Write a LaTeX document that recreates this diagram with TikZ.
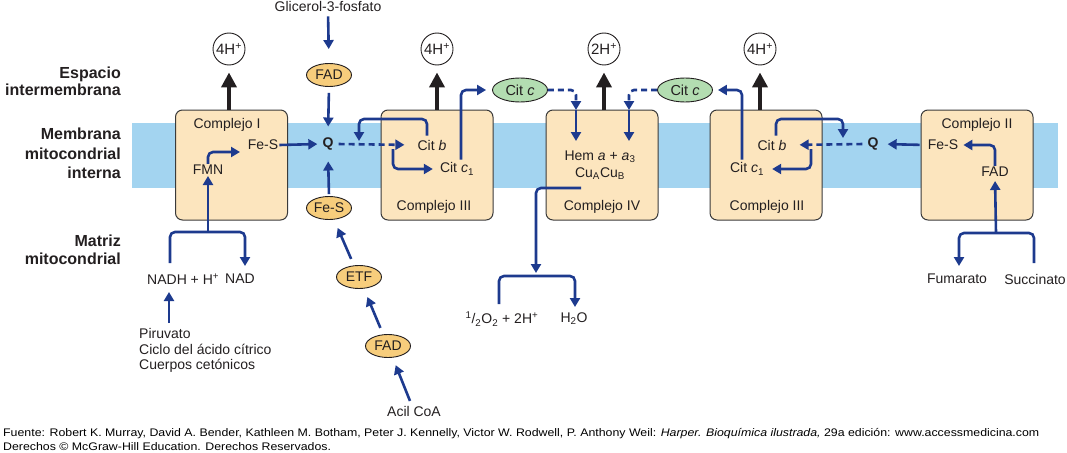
\documentclass[tikz,border=0pt]{standalone}
\usepackage{fontspec}
\usepackage{graphicx}
\setmainfont{Liberation Sans}
\usetikzlibrary{arrows.meta,shapes.geometric,calc}
\definecolor{flowblue}{HTML}{1D3A8E}
\definecolor{boxfill}{HTML}{FCE5BE}
\definecolor{boxline}{HTML}{3A3A3A}
\definecolor{orangefill}{HTML}{F7CD7C}
\definecolor{greenfill}{HTML}{B3DDB1}
\definecolor{membrane}{HTML}{A3D4F0}
\definecolor{ink}{HTML}{231F20}
\begin{document}
\begin{tikzpicture}[x=1pt,y=-1pt,
  txt/.style={font=\fontsize{14}{16}\selectfont, inner sep=1pt, text=ink},
  side/.style={font=\bfseries\fontsize{16}{18}\selectfont, inner sep=0pt, anchor=base east, text=ink},
  cbox/.style={draw=boxline, fill=boxfill, rounded corners=7pt, line width=1pt, minimum width=112pt, minimum height=110pt, inner sep=0pt},
  oval/.style={ellipse, draw=ink, line width=0.9pt, fill=orangefill, minimum width=45pt, minimum height=23pt, inner sep=0pt, font=\fontsize{14}{16}\selectfont, text=ink},
  cyt/.style={ellipse, draw=ink, line width=0.9pt, fill=greenfill, minimum width=55pt, minimum height=24pt, inner sep=0pt, font=\fontsize{14.5}{16}\selectfont, text=ink},
  hcirc/.style={circle, draw=ink, line width=0.9pt, fill=white, minimum size=32pt, inner sep=0pt, font=\fontsize{15}{17}\selectfont, text=ink},
  flowline/.style={draw=flowblue, line width=2.6pt, rounded corners=5pt},
  flow/.style={flowline, -{Triangle[length=9pt,width=10pt]}},
  flowdash/.style={flow, dash pattern=on 6pt off 4pt},
  pump/.style={draw=ink, line width=4.5pt, -{Triangle[length=15pt,width=15pt]}},
  foot/.style={font=\fontsize{11}{13}\selectfont, inner sep=0pt, anchor=base west, text=black}
]
\path[use as bounding box] (0,0) rectangle (1067,452);

% membrane
\fill[membrane] (132,123) rectangle (1058,188);

% side labels
\node[side] (sl1) at (121,78) {Espacio};
\node[side] (sl2) at (121,95) {intermembrana};
\node[side] (sl3) at (121,139) {Membrana};
\node[side] (sl4) at (121,159) {mitocondrial};
\node[side] (sl5) at (121,178) {interna};
\node[side] (sl6) at (121,246) {Matriz};
\node[side] (sl7) at (121,264) {mitocondrial};

% complex boxes
\node[cbox] (c1) at (231.5,165) {};
\node[cbox] (c3a) at (437,165) {};
\node[cbox] (c4) at (602,165) {};
\node[cbox] (c3b) at (766,165) {};
\node[cbox] (c2) at (977,165) {};

% Complex I contents
\node[txt] (c1t) at (227,125) {Complejo I};
\node[txt] (fes1) at (263,145) {Fe-S};
\node[txt] (fmn) at (208,170) {FMN};

% Complex III (left)
\node[txt] (c3at) at (434,207) {Complejo III};
\node[txt] (citb1) at (432,145) {Cit \textit{b}};
\node[txt] (citc1a) at (457,169) {Cit \textit{c}\textsubscript{1}};

% Complex IV
\node[txt] (hem) at (600,157) {Hem \textit{a} + \textit{a}\textsubscript{3}};
\node[txt] (cu) at (600,174) {Cu\textsubscript{A}Cu\textsubscript{B}};
\node[txt] (c4t) at (602,207) {Complejo IV};

% Complex III (right)
\node[txt] (c3bt) at (767,207) {Complejo III};
\node[txt] (citb2) at (772,145) {Cit \textit{b}};
\node[txt] (citc1b) at (747,169) {Cit \textit{c}\textsubscript{1}};

% Complex II
\node[txt] (c2t) at (977,125) {Complejo II};
\node[txt] (fes2) at (943,145) {Fe-S};
\node[txt] (fad3) at (995,172) {FAD};

% Q nodes
\node[txt, font=\bfseries\fontsize{14}{16}\selectfont, inner sep=3pt] (qL) at (328,144) {Q};
\node[txt, font=\bfseries\fontsize{14}{16}\selectfont, inner sep=3pt] (qR) at (873,144) {Q};

% ovals
\node[oval] (fadT) at (329,75) {FAD};
\node[oval] (fesM) at (329,208) {Fe-S};
\node[oval] (etf) at (359,277) {ETF};
\node[oval] (fad2) at (388,346) {FAD};
\node[cyt] (citcL) at (520,90) {Cit \textit{c}};
\node[cyt] (citcR) at (685,90) {Cit \textit{c}};

% proton circles
\node[hcirc] (h1) at (229,49) {4H\textsuperscript{+}};
\node[hcirc] (h3a) at (437,49) {4H\textsuperscript{+}};
\node[hcirc] (h4) at (604,49) {2H\textsuperscript{+}};
\node[hcirc] (h3b) at (760,49) {4H\textsuperscript{+}};

% outside texts
\node[txt] (glic) at (328,6) {Glicerol-3-fosfato};
\node[txt, anchor=west] (nadh) at (146,279) {NADH + H\textsuperscript{+}};
\node[txt] (nad) at (240,279) {NAD};
\node[txt, anchor=north west, align=left, font=\fontsize{14}{15.8}\selectfont] (pir) at (138,327) {Piruvato\\Ciclo del ácido cítrico\\Cuerpos cetónicos};
\node[txt] (acil) at (414,411) {Acil CoA};
\node[txt] (o2) at (502,319) {\textsuperscript{1}/\textsubscript{2}O\textsubscript{2} + 2H\textsuperscript{+}};
\node[txt] (h2o) at (574,319) {H\textsubscript{2}O};
\node[txt] (fum) at (957,279) {Fumarato};
\node[txt] (suc) at (1035,279) {Succinato};

% pump arrows
\draw[pump, shorten >=7pt] (h1 |- c1.north) -- (h1);
\draw[pump, shorten >=7pt] (h3a |- c3a.north) -- (h3a);
\draw[pump, shorten >=7pt] (h4 |- c4.north) -- (h4);
\draw[pump, shorten >=7pt] (h3b |- c3b.north) -- (h3b);

% coordinates
\coordinate (nadhsplit) at (208,232);
\coordinate (nadhup) at (170,263);
\coordinate (nadin) at (245,266);
\coordinate (pirtop) at (169,323);
\coordinate (pirtip) at (169,292);
\coordinate (fesin) at (240,152);
\coordinate (qbendL) at (359,119);
\coordinate (qdownL) at (359,141);
\coordinate (splitL) at (393,149);
\coordinate (c4inL) at (576,110);
\coordinate (c4tipL) at (576,141);
\coordinate (c4inR) at (629,110);
\coordinate (c4tipR) at (629,141);
\coordinate (c4out) at (581,188);
\coordinate (o2split) at (536,276);
\coordinate (o2tip) at (536,273);
\coordinate (o2left) at (499,304);
\coordinate (h2oin) at (575,307);
\coordinate (qbendR) at (843,119);
\coordinate (qdownR) at (843,138);
\coordinate (splitR) at (811,149);
\coordinate (c2split) at (996,233);
\coordinate (fumin) at (959,266);
\coordinate (sucup) at (1034,263);

% Complex I flows
\draw[flow] (nadhsplit) -- (fmn.south);
\draw[flow] (fmn.north) |- (fesin);
\draw[flow] (nadhup) |- (nadhsplit) -| (nadin);
\draw[flow] (pirtop) -- (pirtip);
\draw[flow, shorten >=2pt] (fes1.east) -- (qL.west);

% glycerol / acyl inputs to Q
\draw[flow, shorten <=4pt, shorten >=14pt] (glic.south) -- (fadT.north);
\draw[flow, shorten <=6pt, shorten >=8pt] (fadT.south) -- (qL.north);
\draw[flow, shorten <=2pt, shorten >=8pt] (fesM.north) -- (qL.south);
\draw[flow, shorten <=7pt, shorten >=9pt] (etf) -- (fesM);
\draw[flow, shorten <=7pt, shorten >=9pt] (fad2) -- (etf);
\draw[flow, shorten <=4pt, shorten >=8pt] (acil) -- (fad2);

% Complex III left
\draw[flowdash, shorten <=2pt, shorten >=12pt] (qL.east) -- (citb1.west);
\draw[flow] ([xshift=-5pt,yshift=3pt]citb1.north) |- (qbendL) -- (qdownL);
\draw[flow, shorten >=6pt] (splitL) |- (citc1a.west);
\draw[flow, shorten >=6pt] ([xshift=4pt,yshift=2pt]citc1a.north) |- (citcL.west);

% Cit c to complex IV
\draw[flowdash] (citcL.east) -| (c4inL);
\draw[flow] (c4inL) -- (c4tipL);
\draw[flowdash] (citcR.west) -| (c4inR);
\draw[flow] (c4inR) -- (c4tipR);

% Complex IV to water
\draw[flow] (c4out) -| (o2tip);
\draw[flow] (o2left) |- (o2split) -| (h2oin);

% Complex III right
\draw[flowdash, shorten <=2pt, shorten >=12pt] (qR.west) -- (citb2.east);
\draw[flow] ([xshift=4pt,yshift=3pt]citb2.north) |- (qbendR) -- (qdownR);
\draw[flow, shorten >=7pt] (splitR) |- (citc1b.east);
\draw[flow, shorten >=5pt] ([xshift=-5pt,yshift=2pt]citc1b.north) |- (citcR.east);

% Complex II
\draw[flow, shorten <=7pt, shorten >=6pt] (fes2.west) -- (qR.east);
\draw[flow, shorten >=4pt] (fad3.north) |- (fes2.east);
\draw[flow, shorten >=3pt] (c2split) -- (fad3.south);
\draw[flow] (sucup) |- (c2split) -| (fumin);

% footer
\node[foot] (f1) at (3,436) {\scalebox{1.122}[1]{Fuente: Robert K. Murray, David A. Bender, Kathleen M. Botham, Peter J. Kennelly, Victor W. Rodwell, P. Anthony Weil: \textit{Harper. Bioquímica ilustrada,} 29a edición: www.accessmedicina.com}};
\node[foot] (f2) at (3,450) {\scalebox{1.122}[1]{Derechos © McGraw-Hill Education. Derechos Reservados.}};
\end{tikzpicture}
\end{document}
